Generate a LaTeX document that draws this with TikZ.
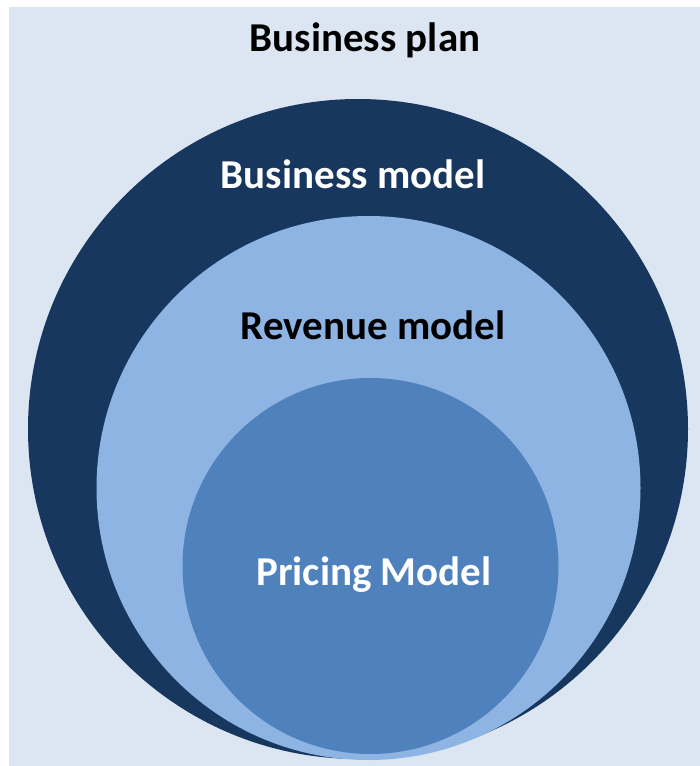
\documentclass[tikz,border=0pt]{standalone}
\usepackage{fontspec}
\setmainfont{Carlito}
\definecolor{bgblue}{HTML}{DCE6F2}
\definecolor{darkblue}{HTML}{17375E}
\definecolor{midblue}{HTML}{8EB4E3}
\definecolor{innerblue}{HTML}{4F81BD}
\begin{document}
\begin{tikzpicture}[x=1pt,y=-1pt,
  lbl/.style={font=\fontsize{41}{45}\selectfont\bfseries, inner sep=0pt, anchor=center}]
\useasboundingbox (0,0) rectangle (700,766);
\fill[white] (0,0) rectangle (700,766);
\fill[bgblue] (9,7) rectangle (700,766);
\fill[darkblue] (358,429) circle[radius=330pt];
\fill[midblue] (368.5,488) circle[radius=272pt];
\fill[innerblue] (370.5,566) circle[radius=188pt];
\node[lbl, text=black] (plan) at (365,40) {Business plan};
\node[lbl, text=white] (bmodel) at (353,174) {Business model};
\node[lbl, text=black] (rmodel) at (373,325) {Revenue model};
\node[lbl, text=white] (pmodel) at (374,575) {Pricing Model};
\end{tikzpicture}
\end{document}
